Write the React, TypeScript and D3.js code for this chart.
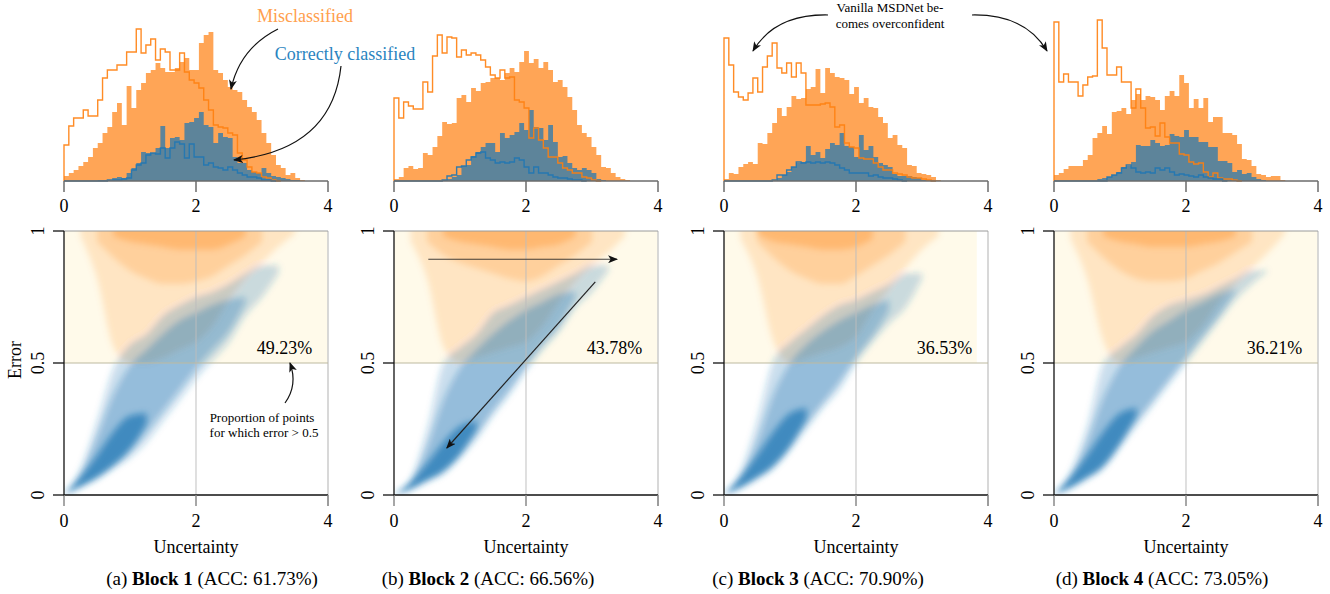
import React from "react";
import * as d3 from "d3";

// histogram bin width (uncertainty units), bins start at 0
const BIN_W = 0.073;

// Block 1 — filled = ours, outline = vanilla MSDNet
const misA = [5, 8, 11, 15, 19, 24, 33, 38, 48, 54, 69, 78, 56, 95, 73, 91, 98, 108, 111, 118, 113, 109, 109, 113, 119, 123, 111, 111, 138, 146, 149, 111, 108, 101, 94, 91, 89, 81, 74, 69, 61, 48, 38, 26, 16, 13, 6, 8, 3, 1];
const corA = [0, 0, 0, 0, 0, 0, 0, 1, 1, 1, 3, 4, 3, 8, 13, 18, 29, 28, 28, 33, 55, 33, 43, 44, 41, 58, 59, 63, 69, 56, 54, 38, 48, 44, 43, 24, 18, 18, 11, 9, 8, 13, 8, 5, 4, 3, 2, 1, 1, 0];
const misVanA = [36, 55, 63, 63, 71, 65, 65, 81, 103, 111, 111, 116, 116, 129, 129, 152, 128, 136, 142, 121, 132, 129, 111, 111, 128, 109, 101, 98, 93, 81, 71, 56, 54, 53, 48, 46, 28, 21, 14, 9, 8, 4, 3, 1, 0];
const corVanA = [0, 0, 0, 0, 0, 0, 0, 0, 0, 1, 1, 1, 2, 3, 11, 16, 18, 26, 28, 27, 33, 23, 33, 39, 37, 23, 37, 24, 24, 16, 18, 14, 13, 11, 14, 11, 8, 6, 4, 4, 3, 1, 1, 0];

// Block 2
const misB = [2, 4, 13, 15, 12, 13, 28, 26, 34, 45, 59, 57, 58, 83, 86, 79, 93, 90, 98, 99, 103, 103, 101, 108, 113, 109, 119, 130, 118, 122, 113, 119, 111, 99, 101, 94, 84, 71, 56, 48, 44, 34, 26, 14, 13, 8, 4, 2, 1, 0];
const corB = [0, 0, 0, 0, 0, 0, 0, 0, 0, 0, 1, 2, 4, 6, 15, 16, 25, 29, 34, 38, 38, 29, 48, 43, 46, 49, 58, 51, 71, 54, 53, 41, 56, 39, 24, 25, 18, 13, 11, 13, 11, 8, 2, 1, 0];
const misVanB = [83, 63, 79, 75, 72, 72, 99, 89, 125, 146, 128, 144, 143, 124, 131, 126, 128, 126, 121, 114, 106, 103, 111, 103, 104, 81, 79, 73, 43, 53, 41, 33, 24, 24, 18, 13, 11, 8, 8, 4, 3, 1, 0];
const corVanB = [0, 0, 0, 0, 0, 0, 0, 0, 0, 0, 1, 5, 6, 14, 15, 21, 24, 28, 29, 23, 21, 18, 19, 18, 19, 23, 21, 14, 8, 14, 8, 8, 6, 4, 3, 3, 2, 1, 1, 0];

// Block 3
const misC = [2, 8, 7, 14, 17, 19, 17, 38, 37, 48, 58, 73, 65, 74, 85, 82, 83, 92, 94, 112, 88, 113, 108, 104, 103, 101, 87, 94, 78, 83, 74, 73, 64, 58, 43, 46, 36, 33, 16, 15, 8, 7, 6, 4, 1, 0];
const corC = [0, 0, 0, 0, 0, 0, 0, 0, 0, 0, 0, 3, 6, 9, 14, 18, 19, 35, 26, 29, 23, 32, 38, 36, 48, 35, 34, 24, 46, 31, 35, 24, 18, 16, 14, 7, 5, 5, 5, 4, 3, 1, 0];
const misVanC = [143, 116, 89, 84, 81, 88, 103, 89, 114, 125, 138, 113, 108, 118, 104, 118, 108, 76, 76, 76, 77, 78, 74, 54, 56, 38, 34, 33, 23, 22, 22, 18, 14, 11, 11, 8, 7, 6, 4, 3, 3, 2, 1, 0];
const corVanC = [0, 0, 0, 0, 0, 0, 0, 0, 0, 0, 1, 6, 6, 11, 14, 19, 18, 19, 18, 19, 18, 19, 18, 16, 13, 11, 8, 8, 8, 8, 5, 6, 4, 3, 3, 2, 1, 0];

// Block 4
const misD = [6, 8, 12, 15, 15, 15, 21, 26, 43, 48, 55, 47, 69, 70, 73, 67, 81, 87, 81, 85, 84, 81, 71, 85, 90, 85, 106, 98, 73, 82, 73, 83, 59, 64, 64, 48, 48, 46, 37, 22, 21, 15, 7, 6, 4, 5, 5, 1, 0];
const corD = [0, 0, 0, 0, 0, 0, 0, 0, 0, 2, 3, 4, 6, 9, 14, 15, 19, 36, 35, 35, 41, 38, 35, 36, 47, 45, 44, 51, 44, 44, 39, 39, 34, 34, 20, 20, 18, 9, 11, 7, 8, 4, 2, 1, 0];
const misVanD = [159, 99, 107, 99, 99, 85, 96, 104, 105, 161, 133, 106, 106, 114, 99, 99, 73, 92, 73, 53, 54, 45, 58, 44, 38, 38, 27, 26, 19, 17, 18, 9, 4, 8, 3, 2, 2, 1, 0];
const corVanD = [0, 0, 0, 0, 0, 0, 0, 0, 0, 0, 0, 4, 6, 8, 13, 16, 13, 9, 8, 9, 8, 13, 11, 13, 9, 6, 7, 6, 5, 4, 6, 4, 3, 2, 2, 0];

// scatter clouds: error envelopes sampled at these uncertainty values
const cloudU = [0, 0.25, 0.5, 0.75, 1, 1.25, 1.5, 1.75, 2, 2.25, 2.5, 2.75, 3, 3.25, 3.5];

const blueHighA = [0, 0.1, 0.28, 0.48, 0.57, 0.61, 0.68, 0.72, 0.75, 0.77, 0.8, 0.84, 0.87, 0.87, null];
const blueLowA = [0, 0.03, 0.06, 0.1, 0.14, 0.2, 0.28, 0.36, 0.44, 0.51, 0.58, 0.68, 0.75, 0.84, null];
const blueMidHighA = [0, 0.08, 0.22, 0.38, 0.49, 0.55, 0.61, 0.66, 0.69, 0.72, 0.74, 0.75, null, null, null];
const blueMidLowA = [0, 0.035, 0.07, 0.12, 0.17, 0.24, 0.32, 0.4, 0.48, 0.55, 0.62, 0.73, null, null, null];
const blueCoreHighA = [0, 0.07, 0.15, 0.24, 0.3, 0.31, null, null, null, null, null, null, null, null, null];
const blueCoreLowA = [0, 0.03, 0.065, 0.11, 0.17, 0.27, null, null, null, null, null, null, null, null, null];
const orangeLowA = [null, 0.98, 0.82, 0.56, 0.5, 0.5, 0.52, 0.55, 0.58, 0.64, 0.74, 0.82, 0.88, 0.94, 0.99];
const orangeDenseA = [null, null, 0.96, 0.9, 0.85, 0.82, 0.8, 0.8, 0.81, 0.83, 0.87, 0.91, 0.96, null, null];
const orangeStripA = [null, null, null, 0.98, 0.96, 0.95, 0.94, 0.93, 0.93, 0.93, 0.95, 0.98, null, null, null];

const blueHighB = [0, 0.06, 0.25, 0.5, 0.56, 0.61, 0.69, 0.72, 0.75, 0.78, 0.81, 0.84, 0.87, 0.87, null];
const blueLowB = [0, 0.02, 0.05, 0.08, 0.14, 0.21, 0.3, 0.38, 0.47, 0.55, 0.62, 0.71, 0.77, 0.85, null];
const blueMidHighB = [0, 0.05, 0.18, 0.36, 0.48, 0.55, 0.61, 0.66, 0.7, 0.73, 0.76, 0.77, null, null, null];
const blueMidLowB = [0, 0.025, 0.055, 0.09, 0.16, 0.23, 0.32, 0.4, 0.49, 0.57, 0.64, 0.75, null, null, null];
const blueCoreHighB = [0, 0.05, 0.12, 0.2, 0.26, 0.28, null, null, null, null, null, null, null, null, null];
const blueCoreLowB = [0, 0.022, 0.055, 0.09, 0.15, 0.25, null, null, null, null, null, null, null, null, null];
const orangeLowB = [null, 0.96, 0.82, 0.56, 0.5, 0.52, 0.54, 0.56, 0.58, 0.64, 0.73, 0.81, 0.87, 0.92, 0.98];
const orangeDenseB = [null, null, 0.96, 0.91, 0.88, 0.86, 0.84, 0.82, 0.81, 0.83, 0.87, 0.91, 0.96, null, null];
const orangeStripB = [null, null, null, 0.98, 0.96, 0.95, 0.94, 0.93, 0.93, 0.94, 0.95, 0.98, null, null, null];

const blueHighC = [0, 0.09, 0.28, 0.51, 0.58, 0.63, 0.68, 0.72, 0.74, 0.77, 0.8, 0.84, 0.84, null, null];
const blueLowC = [0, 0.025, 0.06, 0.1, 0.17, 0.25, 0.33, 0.4, 0.5, 0.58, 0.65, 0.71, 0.82, null, null];
const blueMidHighC = [0, 0.07, 0.2, 0.38, 0.5, 0.57, 0.62, 0.66, 0.69, 0.72, 0.74, null, null, null, null];
const blueMidLowC = [0, 0.03, 0.065, 0.11, 0.19, 0.27, 0.35, 0.43, 0.52, 0.6, 0.7, null, null, null, null];
const blueCoreHighC = [0, 0.07, 0.15, 0.24, 0.31, 0.33, null, null, null, null, null, null, null, null, null];
const blueCoreLowC = [0, 0.028, 0.065, 0.11, 0.18, 0.29, null, null, null, null, null, null, null, null, null];
const orangeLowC = [null, 0.97, 0.83, 0.58, 0.5, 0.52, 0.54, 0.56, 0.6, 0.7, 0.78, 0.86, 0.93, 0.98, null];
const orangeDenseC = [null, null, 0.96, 0.9, 0.85, 0.82, 0.8, 0.8, 0.83, 0.87, 0.91, 0.96, null, null, null];
const orangeStripC = [null, null, 0.99, 0.96, 0.95, 0.94, 0.93, 0.93, 0.94, 0.97, null, null, null, null, null];

const blueHighD = [0, 0.09, 0.26, 0.5, 0.56, 0.61, 0.68, 0.72, 0.74, 0.76, 0.79, 0.82, 0.85, 0.85, null];
const blueLowD = [0, 0.025, 0.06, 0.1, 0.18, 0.26, 0.34, 0.42, 0.5, 0.58, 0.66, 0.74, 0.8, 0.85, null];
const blueMidHighD = [0, 0.07, 0.2, 0.37, 0.49, 0.56, 0.62, 0.66, 0.7, 0.73, 0.76, 0.78, null, null, null];
const blueMidLowD = [0, 0.03, 0.065, 0.11, 0.2, 0.28, 0.36, 0.44, 0.52, 0.6, 0.68, 0.77, null, null, null];
const blueCoreHighD = [0, 0.07, 0.15, 0.24, 0.31, 0.33, null, null, null, null, null, null, null, null, null];
const blueCoreLowD = [0, 0.028, 0.065, 0.11, 0.19, 0.3, null, null, null, null, null, null, null, null, null];
const orangeLowD = [null, 0.97, 0.82, 0.58, 0.5, 0.52, 0.54, 0.56, 0.58, 0.64, 0.73, 0.8, 0.86, 0.92, 0.99];
const orangeDenseD = [null, null, 0.96, 0.9, 0.85, 0.82, 0.81, 0.81, 0.82, 0.85, 0.88, 0.92, 0.96, null, null];
const orangeStripD = [null, null, null, 0.98, 0.96, 0.95, 0.94, 0.94, 0.94, 0.95, 0.96, 0.98, null, null, null];

const tags = ["(a)", "(b)", "(c)", "(d)"];
const blocks = ["Block 1", "Block 2", "Block 3", "Block 4"];
const accs = ["61.73%", "66.56%", "70.90%", "73.05%"];
const pcts = ["49.23%", "43.78%", "36.53%", "36.21%"];
const shadeEnd = [4, 4, 3.83, 4];
const xTicks = [0, 2, 4];
const yTicks = [0, 0.5, 1];
const yTickLabels = ["0", "0.5", "1"];

const ORANGE = "#ff7f0e";
const BLUE = "#1f77b4";
const FONT = "'Liberation Serif', 'Times New Roman', serif";

const panels = [
  { mis: misA, cor: corA, misVan: misVanA, corVan: corVanA, bHi: blueHighA, bLo: blueLowA, mHi: blueMidHighA, mLo: blueMidLowA, cHi: blueCoreHighA, cLo: blueCoreLowA, oLo: orangeLowA, oDense: orangeDenseA, oStrip: orangeStripA },
  { mis: misB, cor: corB, misVan: misVanB, corVan: corVanB, bHi: blueHighB, bLo: blueLowB, mHi: blueMidHighB, mLo: blueMidLowB, cHi: blueCoreHighB, cLo: blueCoreLowB, oLo: orangeLowB, oDense: orangeDenseB, oStrip: orangeStripB },
  { mis: misC, cor: corC, misVan: misVanC, corVan: corVanC, bHi: blueHighC, bLo: blueLowC, mHi: blueMidHighC, mLo: blueMidLowC, cHi: blueCoreHighC, cLo: blueCoreLowC, oLo: orangeLowC, oDense: orangeDenseC, oStrip: orangeStripC },
  { mis: misD, cor: corD, misVan: misVanD, corVan: corVanD, bHi: blueHighD, bLo: blueLowD, mHi: blueMidHighD, mLo: blueMidLowD, cHi: blueCoreHighD, cLo: blueCoreLowD, oLo: orangeLowD, oDense: orangeDenseD, oStrip: orangeStripD },
];

const PANEL_X = [64, 394, 724, 1054];
const PANEL_W = 264;
const CAPTION_CX = [212, 488, 818, 1162];

const Panel = ({ i }: { i: number }) => {
  const p = panels[i];
  const x0 = PANEL_X[i];
  const x = d3.scaleLinear().domain([0, 4]).range([x0, x0 + PANEL_W]);
  const hy = d3.scaleLinear().domain([0, 160]).range([181, 21]);
  const sy = d3.scaleLinear().domain([0, 1]).range([495, 231]);

  const stepPts = (vals: number[]) => [...vals.map((v, k) => [k * BIN_W, v] as [number, number]), [vals.length * BIN_W, 0] as [number, number]];

  const stepLine = (vals: number[]) =>
    d3
      .line<[number, number]>()
      .x((d) => x(d[0]))
      .y((d) => hy(d[1]))
      .curve(d3.curveStepAfter)([[0, 0], ...stepPts(vals)]) || "";

  const stepArea = (vals: number[]) =>
    d3
      .area<[number, number]>()
      .x((d) => x(d[0]))
      .y0(hy(0))
      .y1((d) => hy(d[1]))
      .curve(d3.curveStepAfter)(stepPts(vals)) || "";

  // orange clouds run up to (slightly past) error = 1, then get clipped
  const band = (lo: (number | null)[], hi: (number | null)[] | null) =>
    d3
      .area<number>()
      .defined((k) => lo[k] != null && (hi == null || hi[k] != null))
      .x((k) => x(cloudU[k]))
      .y0((k) => sy(lo[k] as number))
      .y1((k) => sy(hi == null ? 1.04 : (hi[k] as number)))
      .curve(d3.curveMonotoneX)(cloudU.map((_, k) => k)) || "";

  return (
    <g>
      <defs>
        <clipPath id={"plot" + i}>
          <rect x={x(0)} y={sy(1)} width={x(4) - x(0)} height={sy(0) - sy(1)} />
        </clipPath>
      </defs>

      {/* top histogram */}
      <path d={stepArea(p.mis)} fill={ORANGE} fillOpacity={0.7} />
      <path d={stepArea(p.cor)} fill={BLUE} fillOpacity={0.72} />
      <path d={stepLine(p.misVan)} fill="none" stroke={ORANGE} strokeWidth={1.4} strokeOpacity={0.9} />
      <path d={stepLine(p.corVan)} fill="none" stroke={BLUE} strokeWidth={1.4} strokeOpacity={0.9} />
      <line x1={x(0)} x2={x(4)} y1={hy(0)} y2={hy(0)} stroke="#6b6b6b" strokeWidth={1.5} />
      {xTicks.map((t) => (
        <g key={"ht" + t}>
          <line x1={x(t)} x2={x(t)} y1={hy(0)} y2={hy(0) + 11} stroke="#6b6b6b" strokeWidth={1.5} />
          <text x={x(t)} y={212} textAnchor="middle" fontSize={18} fontFamily={FONT}>{t}</text>
        </g>
      ))}

      {/* scatter */}
      <rect x={x(0)} y={sy(1)} width={x(shadeEnd[i]) - x(0)} height={sy(0.5) - sy(1)} fill="#fffaea" />
      <g clipPath={`url(#plot${i})`}>
        <g filter="url(#soft)">
          <path d={band(p.oLo, null)} fill={ORANGE} fillOpacity={0.17} />
          <path d={band(p.oDense, null)} fill={ORANGE} fillOpacity={0.2} />
          <path d={band(p.oStrip, null)} fill={ORANGE} fillOpacity={0.28} />
          <path d={band(p.bLo, p.bHi)} fill={BLUE} fillOpacity={0.24} />
          <path d={band(p.mLo, p.mHi)} fill={BLUE} fillOpacity={0.32} />
          <path d={band(p.cLo, p.cHi)} fill={BLUE} fillOpacity={0.72} />
        </g>
      </g>

      <line x1={x(2)} x2={x(2)} y1={sy(1)} y2={sy(0)} stroke="#bdbdbd" strokeWidth={1.2} strokeOpacity={0.8} />
      <line x1={x(4)} x2={x(4)} y1={sy(1)} y2={sy(0) + 11} stroke="#cfcfcf" strokeWidth={1.6} />
      <line x1={x(0)} x2={x(4)} y1={sy(0.5)} y2={sy(0.5)} stroke="#bdb9a0" strokeWidth={1.1} />
      <line x1={x(0)} x2={x(4)} y1={sy(1)} y2={sy(1)} stroke="#9a9a9a" strokeWidth={1} />
      <line x1={x(0)} x2={x(0)} y1={sy(1)} y2={sy(0)} stroke="#111" strokeWidth={1.3} />
      <line x1={x(0)} x2={x(4)} y1={sy(0)} y2={sy(0)} stroke="#111" strokeWidth={1.3} />
      {xTicks.map((t) => (
        <g key={"st" + t}>
          <line x1={x(t)} x2={x(t)} y1={sy(0)} y2={sy(0) + 11} stroke="#8a8a8a" strokeWidth={1.5} />
          <text x={x(t)} y={527} textAnchor="middle" fontSize={18} fontFamily={FONT}>{t}</text>
        </g>
      ))}
      {yTicks.map((t, k) => (
        <g key={"sy" + t}>
          <line x1={x(0) - 11} x2={x(0)} y1={sy(t)} y2={sy(t)} stroke="#111" strokeWidth={1.3} />
          <text transform={`translate(${x(0) - 20},${sy(t)}) rotate(-90)`} textAnchor="middle" fontSize={18} fontFamily={FONT}>{yTickLabels[k]}</text>
        </g>
      ))}
      <text x={x(3.76)} y={sy(0.535)} textAnchor="end" fontSize={18} fontFamily={FONT}>{pcts[i]}</text>
      <text x={x(2)} y={553} textAnchor="middle" fontSize={18} fontFamily={FONT}>Uncertainty</text>
      <text x={CAPTION_CX[i]} y={585} textAnchor="middle" fontSize={19} fontFamily={FONT}>
        {tags[i]} <tspan fontWeight="bold">{blocks[i]}</tspan> (ACC: {accs[i]})
      </text>

      {i === 1 && (
        <g stroke="#222" strokeWidth={1.2} fill="none">
          <line x1={x(0.52)} x2={x(3.38)} y1={sy(0.893)} y2={sy(0.893)} markerEnd="url(#arrow)" strokeOpacity={0.85} />
          <line x1={x(3.05)} x2={x(0.8)} y1={sy(0.807)} y2={sy(0.178)} markerEnd="url(#arrow)" />
        </g>
      )}
    </g>
  );
};

export default function App() {
  return (
    <svg width={1330} height={594} style={{ position: "absolute", left: 0, top: 0, background: "#fff" }}>
      <defs>
        <marker id="arrow" viewBox="0 0 10 8" refX={9} refY={4} markerWidth={10} markerHeight={8} markerUnits="userSpaceOnUse" orient="auto">
          <path d="M0,0 L10,4 L0,8 L2.5,4 Z" fill="#111" />
        </marker>
        <filter id="soft" x="-10%" y="-10%" width="120%" height="120%">
          <feGaussianBlur stdDeviation={3} />
        </filter>
      </defs>
      {panels.map((_, i) => (
        <Panel key={i} i={i} />
      ))}

      <text transform="translate(21,360) rotate(-90)" textAnchor="middle" fontSize={18} fontFamily={FONT}>Error</text>

      {/* annotations */}
      <text x={305} y={22} textAnchor="middle" fontSize={18} fontFamily={FONT} fill="#ffa04d">Misclassified</text>
      <text x={345} y={60} textAnchor="middle" fontSize={18} fontFamily={FONT} fill="#2a84c0">Correctly classified</text>
      <g fill="none" stroke="#111" strokeWidth={1.2}>
        <path d="M278,29 Q240,48 231,89" markerEnd="url(#arrow)" />
        <path d="M341,66 Q332,150 234,160" markerEnd="url(#arrow)" />
        <path d="M828,15 Q775,14 753,51" markerEnd="url(#arrow)" />
        <path d="M972,15 Q1025,14 1047,51" markerEnd="url(#arrow)" />
        <path d="M285,403 Q298,385 290,363" markerEnd="url(#arrow)" />
      </g>
      <text x={890} y={12} textAnchor="middle" fontSize={13} fontFamily={FONT}>Vanilla MSDNet be-</text>
      <text x={890} y={28} textAnchor="middle" fontSize={13} fontFamily={FONT}>comes overconfident</text>
      <text x={262} y={422} textAnchor="middle" fontSize={13} fontFamily={FONT}>Proportion of points</text>
      <text x={264} y={437} textAnchor="middle" fontSize={13} fontFamily={FONT}>for which error &gt; 0.5</text>
    </svg>
  );
}
